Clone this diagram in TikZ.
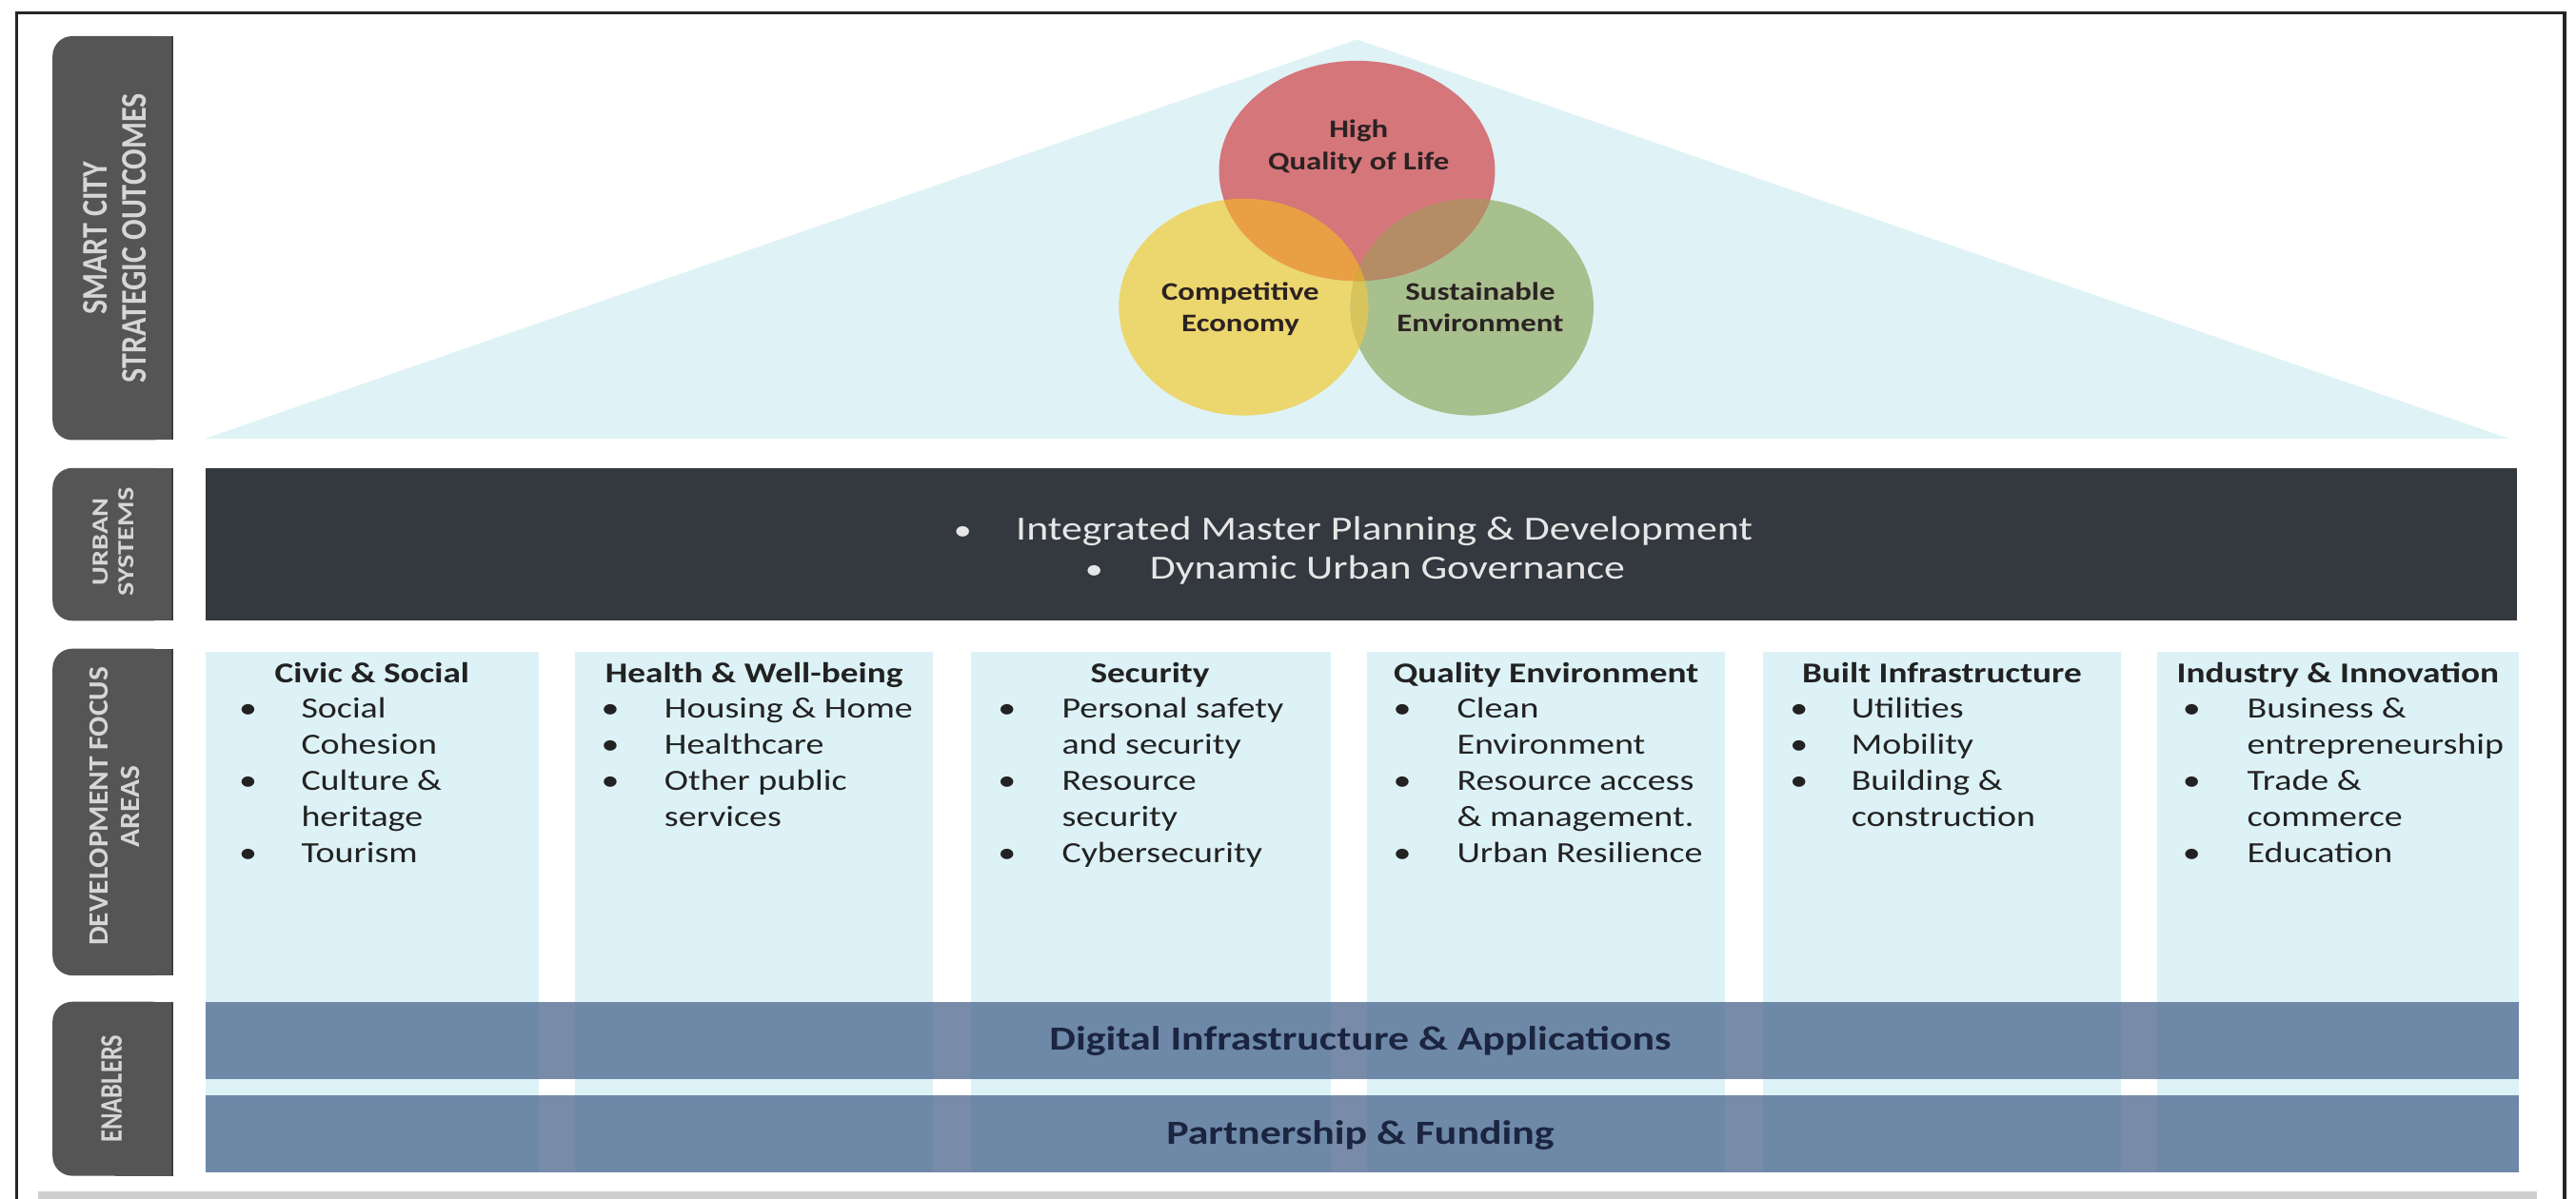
\documentclass[tikz,border=0pt]{standalone}
\usepackage{fontspec}
\usepackage{graphicx}
\setmainfont{Carlito}
\definecolor{tabgray}{HTML}{555555}
\definecolor{tabedge}{HTML}{3E3E3E}
\definecolor{tabtext}{HTML}{D6D6D6}
\definecolor{urban}{HTML}{33393E}
\definecolor{urbantext}{HTML}{E6E6E6}
\definecolor{sky}{HTML}{DDF2F6}
\definecolor{tri}{HTML}{DFF3F6}
\definecolor{enab}{RGB}{64,92,135}
\definecolor{navy}{HTML}{1B2540}
\definecolor{txt}{HTML}{222222}
\definecolor{venntxt}{HTML}{2B2222}
\definecolor{vr}{HTML}{D5767B}
\definecolor{vy}{HTML}{ECD66E}
\definecolor{vg}{HTML}{A8BF8E}
\definecolor{vry}{HTML}{E9A045}
\definecolor{vrg}{HTML}{B48C66}
\definecolor{vyg}{HTML}{D8C45C}
\definecolor{vryg}{HTML}{D9A63C}
\definecolor{bottomgray}{HTML}{CFCFCF}
\tikzset{
  tabbox/.style={fill=tabgray},
  tablabel/.style={rotate=90, text=tabtext, align=center, inner sep=0pt},
  head/.style={anchor=base, font=\bfseries\fontsize{10.8}{12}\selectfont, text=txt, inner sep=0pt},
  itm/.style={anchor=base west, font=\fontsize{11}{13}\selectfont, text=txt, inner sep=0pt},
  bul/.style={anchor=base, font=\fontsize{11}{13}\selectfont, text=txt, inner sep=0pt},
  urbtxt/.style={anchor=base west, font=\fontsize{12.7}{14}\selectfont, text=urbantext, inner sep=0pt},
  urbbul/.style={anchor=base, font=\fontsize{11}{14}\selectfont, text=urbantext, inner sep=0pt},
  enabtxt/.style={anchor=base, font=\bfseries\fontsize{12.7}{14}\selectfont, text=navy, inner sep=0pt},
  venn/.style={align=center, font=\bfseries\fontsize{9.5}{12}\selectfont, text=venntxt, inner sep=0pt},
  colbox/.style={fill=sky},
  enabbar/.style={fill=enab, fill opacity=0.7}
}
\newcommand\itline[4]{\node[itm] (#1) at (#2,{415.5+21.9*#3}) {#4};}
\newcommand\itbul[3]{\node[bul] (#1) at (#2,{415.5+21.9*#3}) {•};}
\def\ER{(826,104) ellipse [x radius=84, y radius=67]}
\def\EY{(757,187) ellipse [x radius=76, y radius=66]}
\def\EG{(896,187) ellipse [x radius=74, y radius=66]}
\begin{document}
\begin{tikzpicture}[x=0.5pt, y=-0.61728pt, yscale=0.81, every node/.append style={transform shape}]
\useasboundingbox (0,0) rectangle (1568,730);
\fill[white] (0,0) rectangle (1568,730);
% outer frame
\draw[line width=0.9pt, black!85] (10,730) -- (10,8) -- (1561,8) -- (1561,730);
\fill[bottomgray] (23,725.5) rectangle (1544,730);
% side tabs
\foreach \ya/\yb in {22/268, 285/378, 395/594, 610/716}{
  \fill[tabbox, rounded corners=6pt] (32,\ya) rectangle (105,\yb);
  \fill[tabbox] (70,\ya) rectangle (105,\yb);
  \draw[tabedge, line width=0.6pt] (105,\ya) -- (105,\yb);
}
\node[tablabel, font=\bfseries\fontsize{11}{12}\selectfont] (t1) at (70,145) {\scalebox{1.04}[1]{SMART CITY}\\\scalebox{1.04}[1]{STRATEGIC OUTCOMES}};
\node[tablabel, font=\bfseries\fontsize{7}{8}\selectfont] (t2) at (69,330) {\scalebox{1.55}[1]{URBAN}\\\scalebox{1.55}[1]{SYSTEMS}};
\node[tablabel, font=\bfseries\fontsize{8.5}{9.5}\selectfont] (t3) at (70,491) {\scalebox{1.32}[1]{DEVELOPMENT FOCUS}\\\scalebox{1.32}[1]{AREAS}};
\node[tablabel, font=\bfseries\fontsize{9.5}{10}\selectfont] (t4) at (68,663) {ENABLERS};
% roof triangle
\fill[tri] (125,267) -- (826,24) -- (1527,267) -- cycle;
% venn
\fill[vy] \EY;
\fill[vg] \EG;
\fill[vr] \ER;
\begin{scope}\clip \EY; \fill[vyg] \EG; \end{scope}
\begin{scope}\clip \ER; \fill[vry] \EY; \end{scope}
\begin{scope}\clip \ER; \fill[vrg] \EG; \end{scope}
\begin{scope}\clip \ER; \clip \EY; \fill[vryg] \EG; \end{scope}
\node[venn] (hq) at (827,89.5) {High\\Quality of Life};
\node[venn] (ce) at (755,188.3) {Competitive\\Economy};
\node[venn] (se) at (901,187) {Sustainable\\Environment};
% urban systems bar
\fill[urban] (125,285) rectangle (1532,378);
\node[urbbul] (ub1) at (586,329) {•};
\node[urbtxt] (ut1) at (618,329) {Integrated Master Planning \& Development};
\node[urbbul] (ub2) at (666,352.5) {•};
\node[urbtxt] (ut2) at (699.5,352.5) {Dynamic Urban Governance};
% focus columns
\foreach \xa/\xb in {125/328, 350/568, 591/810, 832/1050, 1073/1291, 1313/1533}{
  \fill[colbox] (\xa,397) rectangle (\xb,714);
}
% enabler bars
\fill[enabbar] (125,610) rectangle (1533,657);
\fill[enabbar] (125,667) rectangle (1533,714);
\node[enabtxt] (e1) at (828,639.7) {Digital Infrastructure \& Applications};
\node[enabtxt] (e2) at (828,697) {Partnership \& Funding};
% column 1
\node[head] (h1) at (226.5,415.5) {Civic \& Social};
\itbul{c1b1}{151}{1}\itline{c1l1}{183}{1}{Social}
\itline{c1l2}{183}{2}{Cohesion}
\itbul{c1b3}{151}{3}\itline{c1l3}{183}{3}{Culture \&}
\itline{c1l4}{183}{4}{heritage}
\itbul{c1b5}{151}{5}\itline{c1l5}{183}{5}{Tourism}
% column 2
\node[head] (h2) at (459,415.5) {Health \& Well-being};
\itbul{c2b1}{371.5}{1}\itline{c2l1}{404}{1}{Housing \& Home}
\itbul{c2b2}{371.5}{2}\itline{c2l2}{404}{2}{Healthcare}
\itbul{c2b3}{371.5}{3}\itline{c2l3}{404}{3}{Other public}
\itline{c2l4}{404}{4}{services}
% column 3
\node[head] (h3) at (700,415.5) {Security};
\itbul{c3b1}{613}{1}\itline{c3l1}{646}{1}{Personal safety}
\itline{c3l2}{646}{2}{and security}
\itbul{c3b3}{613}{3}\itline{c3l3}{646}{3}{Resource}
\itline{c3l4}{646}{4}{security}
\itbul{c3b5}{613}{5}\itline{c3l5}{646}{5}{Cybersecurity}
% column 4
\node[head] (h4) at (941,415.5) {Quality Environment};
\itbul{c4b1}{853.5}{1}\itline{c4l1}{886.5}{1}{Clean}
\itline{c4l2}{886.5}{2}{Environment}
\itbul{c4b3}{853.5}{3}\itline{c4l3}{886.5}{3}{Resource access}
\itline{c4l4}{886.5}{4}{\& management.}
\itbul{c4b5}{853.5}{5}\itline{c4l5}{886.5}{5}{Urban Resilience}
% column 5
\node[head] (h5) at (1182,415.5) {Built Infrastructure};
\itbul{c5b1}{1095}{1}\itline{c5l1}{1126.5}{1}{Utilities}
\itbul{c5b2}{1095}{2}\itline{c5l2}{1126.5}{2}{Mobility}
\itbul{c5b3}{1095}{3}\itline{c5l3}{1126.5}{3}{Building \&}
\itline{c5l4}{1126.5}{4}{construction}
% column 6
\node[head] (h6) at (1423,415.5) {Industry \& Innovation};
\itbul{c6b1}{1334}{1}\itline{c6l1}{1367.5}{1}{Business \&}
\itline{c6l2}{1367.5}{2}{entrepreneurship}
\itbul{c6b3}{1334}{3}\itline{c6l3}{1367.5}{3}{Trade \&}
\itline{c6l4}{1367.5}{4}{commerce}
\itbul{c6b5}{1334}{5}\itline{c6l5}{1367.5}{5}{Education}
\end{tikzpicture}
\end{document}
